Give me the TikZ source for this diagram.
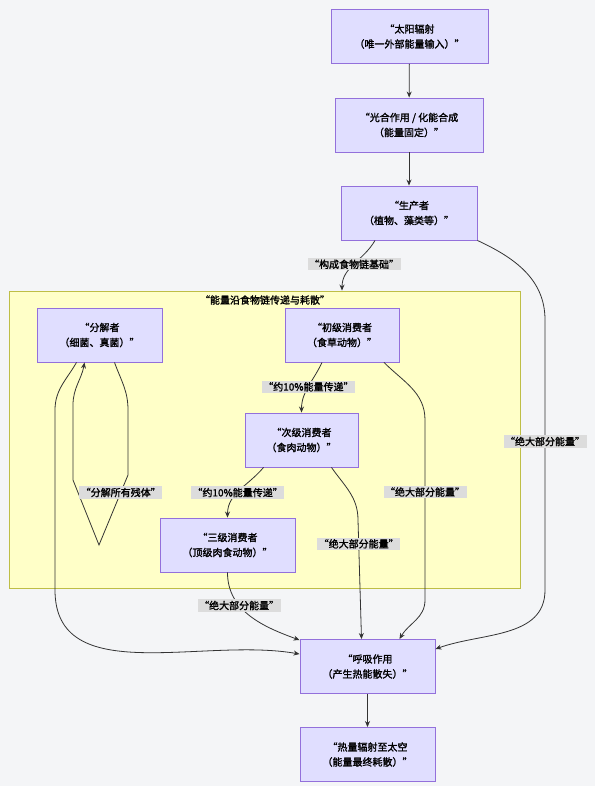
\documentclass[tikz,border=0pt]{standalone}
\usepackage{fontspec}
\setmainfont{Noto Sans CJK SC}[BoldFont={Noto Sans CJK SC}, BoldFeatures={FakeBold=1.6}]
\usetikzlibrary{arrows.meta,positioning}
\definecolor{pagebg}{RGB}{244,245,247}
\definecolor{boxfill}{RGB}{224,222,255}
\definecolor{boxline}{RGB}{147,112,219}
\definecolor{groupfill}{RGB}{255,255,200}
\definecolor{groupline}{RGB}{190,190,70}
\definecolor{lblfill}{RGB}{220,220,220}
\definecolor{edgeline}{RGB}{51,51,51}

\begin{document}
\begin{tikzpicture}[
  x=1pt, y=1pt,
  box/.style={draw=boxline, fill=boxfill, line width=0.9pt, align=center,
    minimum height=54pt, inner xsep=6pt, font=\bfseries\fontsize{10}{15}\selectfont},
  group/.style={draw=groupline, fill=groupfill, line width=0.9pt,
    minimum width=511pt, minimum height=297pt, inner sep=0pt},
  title/.style={inner sep=1pt, font=\bfseries\fontsize{10}{12}\selectfont},
  lbl/.style={fill=lblfill, inner sep=1.5pt, font=\bfseries\fontsize{10}{12}\selectfont},
  flow/.style={-{Stealth[length=6pt,width=5pt]}, draw=edgeline, line width=0.8pt}
]
\fill[pagebg] (0,0) rectangle (595,-786);
\useasboundingbox (0,0) rectangle (595,-786);
\node[group] (chain) at (264.5,-439.5) {};
\node[title] (chaintitle) at (265,-300) {“能量沿食物链传递与耗散”};
\node[box, minimum width=157pt] (sun) at (409.5,-36.5) {“太阳辐射\\（唯一外部能量输入）”};
\node[box, minimum width=148pt] (photo) at (409,-125) {“光合作用 / 化能合成\\（能量固定）”};
\node[box, minimum width=136pt] (prod) at (409,-213) {“生产者\\（植物、藻类等）”};
\node[box, minimum width=125pt] (dec) at (99.5,-335) {“分解者\\（细菌、真菌）”};
\node[box, minimum width=114pt] (prim) at (342,-335) {“初级消费者\\（食草动物）”};
\node[box, minimum width=113pt] (sec) at (301.5,-440) {“次级消费者\\（食肉动物）”};
\node[box, minimum width=135pt] (tert) at (227.5,-545) {“三级消费者\\（顶级肉食动物）”};
\node[box, minimum width=135pt] (resp) at (367.5,-666.5) {“呼吸作用\\（产生热能散失）”};
\node[box, minimum width=135pt] (heat) at (367.5,-754.5) {“热量辐射至太空\\（能量最终耗散）”};
\draw[flow] (sun) -- (photo);
\draw[flow] (photo) -- (prod);
\draw[flow] ([xshift=-34pt]prod.south) to[out=-120,in=90] node[lbl]{“构成食物链基础”} (chain.north -| prim.north);
\draw[flow] (prod.south east) to[out=-25,in=90] (545,-320) -- node[lbl,pos=0.45]{“绝大部分能量”} (545,-590) to[out=-90,in=20] ([yshift=-10pt]resp.north east);
\draw[flow] ([xshift=-20pt]prim.south) to[out=-115,in=90] node[lbl]{“约10\%能量传递”} (sec.north);
\draw[flow] ([xshift=42pt]prim.south) to[out=-45,in=90] (425,-420) -- node[lbl,pos=0.4]{“绝大部分能量”} (425,-600) to[out=-90,in=60] ([xshift=32pt]resp.north);
\draw[flow] ([xshift=-38pt]sec.south) to[out=-130,in=90] node[lbl,pos=0.55]{“约10\%能量传递”} (tert.north);
\draw[flow] ([xshift=30pt]sec.south) to[out=-55,in=90] (358,-520) -- node[lbl,pos=0.2]{“绝大部分能量”} ([xshift=-6pt]resp.north);
\draw[flow] (tert.south) to[out=-90,in=160] node[lbl,pos=0.35]{“绝大部分能量”} ([yshift=-1pt]resp.north west);
\draw[flow] ([xshift=15pt]dec.south) to[out=-70,in=90] (128,-410) -- (128,-475) -- node[lbl,pos=0.25]{“分解所有残体”} (99,-545) -- (73,-480) -- (73,-405) to[out=90,in=-100] ([xshift=-15pt]dec.south);
\draw[flow] ([xshift=-23pt]dec.south) to[out=-120,in=90] (55,-410) -- (55,-590) to[out=-90,in=170] ([yshift=-15pt]resp.north west);
\draw[flow] (resp) -- (heat);
\end{tikzpicture}
\end{document}
